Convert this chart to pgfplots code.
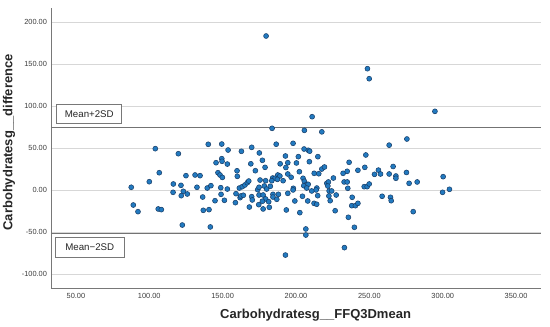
\documentclass[border=0pt]{standalone}
\usepackage{fontspec}
\setmainfont{Liberation Sans}
\usepackage{pgfplots}
\pgfplotsset{compat=1.18}
\definecolor{ptfill}{RGB}{34,122,192}
\definecolor{ptedge}{RGB}{22,58,100}
\definecolor{gridc}{RGB}{215,215,215}
\definecolor{axc}{RGB}{120,120,120}
\definecolor{refc}{RGB}{115,115,115}
\definecolor{tickc}{RGB}{60,60,60}
\pgfplotstableread{
x y
179.6 183.5
248.7 144.6
249.9 132.7
294.7 93.9
211.0 87.5
205.7 71.3
217.6 69.5
183.7 73.7
104.1 49.5
119.8 43.5
140.2 54.7
149.4 55.0
153.7 47.9
162.8 46.4
169.8 51.1
175.0 44.4
177.1 35.7
149.4 37.6
145.5 32.8
149.6 34.5
153.2 31.2
169.2 31.5
186.5 54.8
198.0 55.9
205.5 49.1
208.4 47.6
209.3 46.5
192.8 40.8
201.6 40.0
214.9 40.0
247.6 42.0
263.5 53.7
275.6 61.0
189.2 31.5
194.4 32.8
200.3 32.5
209.1 34.0
236.2 33.3
178.9 27.3
172.3 23.3
159.8 23.2
160.0 16.6
146.8 20.9
148.2 18.2
149.8 15.3
125.0 17.4
131.2 18.2
134.6 17.4
106.8 20.9
193.1 27.1
187.6 18.2
189.0 17.0
194.4 19.4
196.7 15.5
202.3 22.1
204.8 14.3
212.4 20.2
215.5 19.7
217.6 25.3
219.4 27.7
225.5 14.6
232.1 20.2
234.9 22.6
242.2 23.8
246.9 27.3
253.5 19.0
256.2 24.0
257.6 19.4
263.5 19.4
266.2 28.3
268.1 17.0
268.1 14.3
275.3 21.2
300.3 16.2
184.1 14.6
185.7 14.3
187.3 13.0
87.7 3.6
100.0 10.2
116.4 7.5
121.6 5.9
123.2 -1.2
132.5 3.6
139.5 2.7
142.0 5.5
148.7 3.1
153.2 1.5
161.4 2.7
163.4 4.3
165.2 6.3
166.8 9.0
167.8 11.0
173.9 0.7
174.8 3.6
178.4 5.1
179.3 11.4
180.0 1.5
182.5 4.8
175.5 12.2
183.5 11.4
191.2 11.4
205.7 10.7
207.3 7.1
205.3 5.5
208.3 7.1
221.0 8.3
222.1 9.9
232.8 9.9
234.9 9.9
235.3 2.4
246.5 4.3
248.5 4.3
249.9 7.5
277.1 8.3
282.6 9.9
304.6 1.2
198.2 2.4
207.3 2.7
214.2 2.7
221.7 5.1
213.7 0.4
198.0 0.4
116.2 -2.4
121.8 -6.4
125.9 -4.4
136.4 -8.0
148.9 -4.8
151.2 -11.9
144.8 -12.4
158.7 -14.7
159.1 -4.0
161.9 -8.8
162.3 -6.8
164.1 -5.9
169.8 -7.6
170.2 -11.5
174.8 -5.6
177.6 -5.6
179.3 -10.3
181.4 -13.6
177.1 -13.0
184.3 -4.8
184.3 -8.0
188.0 -4.8
186.9 -10.7
194.4 -3.6
204.4 -7.1
199.2 -12.7
208.0 -12.7
212.3 -15.5
214.1 -16.6
210.7 -0.8
214.8 -6.4
222.6 -0.8
224.3 -0.8
222.4 -6.8
223.3 -12.4
227.4 -5.6
238.3 -8.3
238.0 -18.3
240.5 -18.3
242.2 -15.5
258.7 -7.1
264.4 -8.3
264.9 -12.4
299.9 -2.4
89.1 -17.5
92.3 -25.4
106.1 -22.2
108.2 -23.0
122.5 -41.3
136.8 -23.8
140.7 -23.0
141.6 -43.6
168.2 -19.9
174.6 -17.1
177.6 -22.2
181.8 -20.2
193.4 -23.4
202.6 -26.6
226.7 -24.3
235.7 -32.1
239.8 -44.0
233.0 -68.2
206.7 -46.0
206.7 -53.2
192.8 -77.0
279.9 -25.4
}\ptdata
\begin{document}
\begin{tikzpicture}
\begin{axis}[
  at={(0,0)}, anchor=south west,
  scale only axis, width=490pt, height=280pt,
  xmin=33, xmax=367, ymin=-116.2, ymax=216.8,
  axis x line*=bottom, axis y line*=left,
  axis line style={-, axc, line width=0.8pt},
  xtick={50,100,...,350}, ytick={-100,-50,...,200},
  ymajorgrids, grid style={gridc, line width=0.7pt},
  major tick length=0pt,
  tick label style={font=\fontsize{7.4}{8}\selectfont, text=tickc,
    /pgf/number format/fixed, /pgf/number format/fixed zerofill,
    /pgf/number format/precision=2, /pgf/number format/assume math mode=true},
  xticklabel style={yshift=-1.5pt},
  yticklabel style={xshift=-0.5pt},
  xlabel={\textbf{Carbohydratesg\_\_FFQ3Dmean}},
  ylabel={\textbf{Carbohydratesg\_\_difference}},
  label style={font=\fontsize{13}{15}\selectfont, text=black!85},
  x label style={at={(axis description cs:0.54,0)}, anchor=center, yshift=-27.5pt},
  y label style={at={(axis description cs:-0.0857,0.52)}, anchor=center},
  clip=false,
]
\addplot[refc, line width=1.3pt, forget plot] coordinates {(33,74.4) (367,74.4)};
\addplot[refc, line width=1.3pt, forget plot] coordinates {(33,-51) (367,-51)};
\addplot[only marks, mark=*, mark size=2.5pt,
  mark options={fill=ptfill, draw=ptedge, line width=0.5pt}] table[x=x, y=y] {\ptdata};
\node[draw=axc, fill=white, line width=0.6pt, minimum width=65pt, minimum height=19pt,
  inner sep=0pt, font=\fontsize{9.7}{11}\selectfont, text=black!85] at (axis cs:59.1,91) {Mean+2SD};
\node[draw=axc, fill=white, line width=0.6pt, minimum width=69pt, minimum height=19.5pt,
  inner sep=0pt, font=\fontsize{9.7}{11}\selectfont, text=black!85] at (axis cs:59.4,-68) {Mean−2SD};
\end{axis}
\pgfresetboundingbox
\path[use as bounding box] (-51pt,-39pt) rectangle (499pt,288pt);
\end{tikzpicture}
\end{document}
